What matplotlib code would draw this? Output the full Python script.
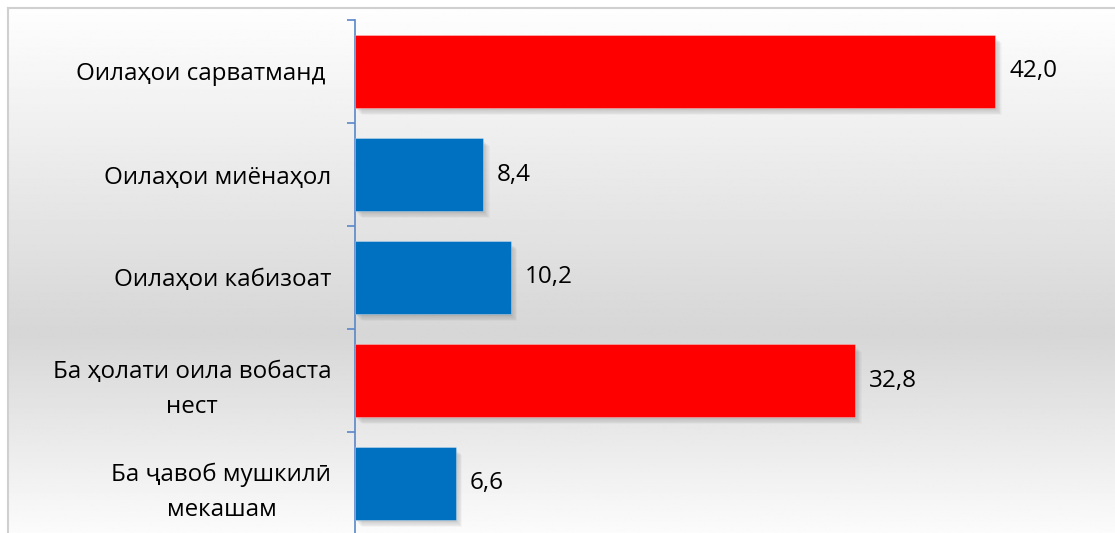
import matplotlib
matplotlib.use("Agg")
import matplotlib.pyplot as plt
import numpy as np
from matplotlib.transforms import ScaledTranslation

categories = ["Оилаҳои сарватманд ", "Оилаҳои миёнаҳол", "Оилаҳои кабизоат",
              "Ба ҳолати оила вобаста\nнест", "Ба ҷавоб мушкилӣ\nмекашам"]
values = [42.0, 8.4, 10.2, 32.8, 6.6]
value_labels = ["42,0", "8,4", "10,2", "32,8", "6,6"]
colors = ["#ff0000", "#0070c0", "#0070c0", "#ff0000", "#0070c0"]

plt.rcParams['font.family'] = ['Open Sans', 'Noto Sans', 'DejaVu Sans']

W, H = 1115, 533
fig = plt.figure(figsize=(W / 100, H / 100), dpi=100)
fig.patch.set_facecolor("white")

# background gradient (chart area) with border
bg = fig.add_axes([8 / W, 0, 1 - 8 / W, 1 - 8 / H])
bg.set_axis_off()
t = np.linspace(0, 1, 400)
peak = 0.62
lev = np.where(t < peak, 1 - t / peak, (t - peak) / (1 - peak))
c_top, c_mid, c_bot = 0.995, 0.84, 0.985
col = np.where(t < peak, c_mid + (c_top - c_mid) * lev, c_mid + (c_bot - c_mid) * lev)
img = np.repeat(col[:, None], 2, axis=1)
bg.imshow(img, cmap="gray", vmin=0, vmax=1, aspect="auto", extent=[0, 1, 0, 1],
          origin="upper", interpolation="bilinear")
bg.set_xlim(0, 1)
bg.set_ylim(0, 1)
fig.add_artist(plt.Line2D([8 / W, 8 / W], [0, 1 - 8 / H], color="#d0d0d0", lw=1.5,
                          transform=fig.transFigure))
fig.add_artist(plt.Line2D([8 / W, 1], [1 - 8 / H, 1 - 8 / H], color="#d0d0d0", lw=1.5,
                          transform=fig.transFigure))

ax = fig.add_axes([355 / W, -2 / H, 732 / W, 515 / H])
ax.patch.set_alpha(0)
ax.set_xlim(0, 48)
ax.set_ylim(4.5, -0.5)

y = np.arange(len(categories))
# soft shadows
for k in range(8):
    sh = ax.barh(y, values, height=0.7, color="black", alpha=0.022, zorder=1)
    off = ScaledTranslation((1 + k * 0.8) / 100, -(2 + k * 0.8) / 100, fig.dpi_scale_trans)
    for p in sh.patches:
        p.set_transform(ax.transData + off)

bars = ax.barh(y, values, height=0.7, color=colors, zorder=3,
               edgecolor=[(1, 1, 1, 0.35)] * 5, linewidth=0.6)

for yi, v, lab in zip(y, values, value_labels):
    ax.annotate(lab, (v, yi), xytext=(10, 0), textcoords="offset points",
                ha="left", va="center", fontsize=17.5, color="black", zorder=4)

for s in ["top", "right", "bottom"]:
    ax.spines[s].set_visible(False)
ax.spines["left"].set_color("#5b87c8")
ax.spines["left"].set_linewidth(1.2)
ax.set_xticks([])
ax.set_yticks(np.arange(-0.5, 5, 1.0))
ax.set_yticklabels([])
ax.tick_params(axis="y", which="major", length=6, color="#5b87c8", width=1.2, direction="out")
ax.set_yticks(y, minor=True)
ax.set_yticklabels(categories, minor=True, fontsize=17.4)
ax.tick_params(axis="y", which="minor", length=0, pad=17)
for lab in ax.get_yticklabels(minor=True):
    lab.set_multialignment("center")
    lab.set_linespacing(1.62)

fig.savefig("out.png", dpi=100)
